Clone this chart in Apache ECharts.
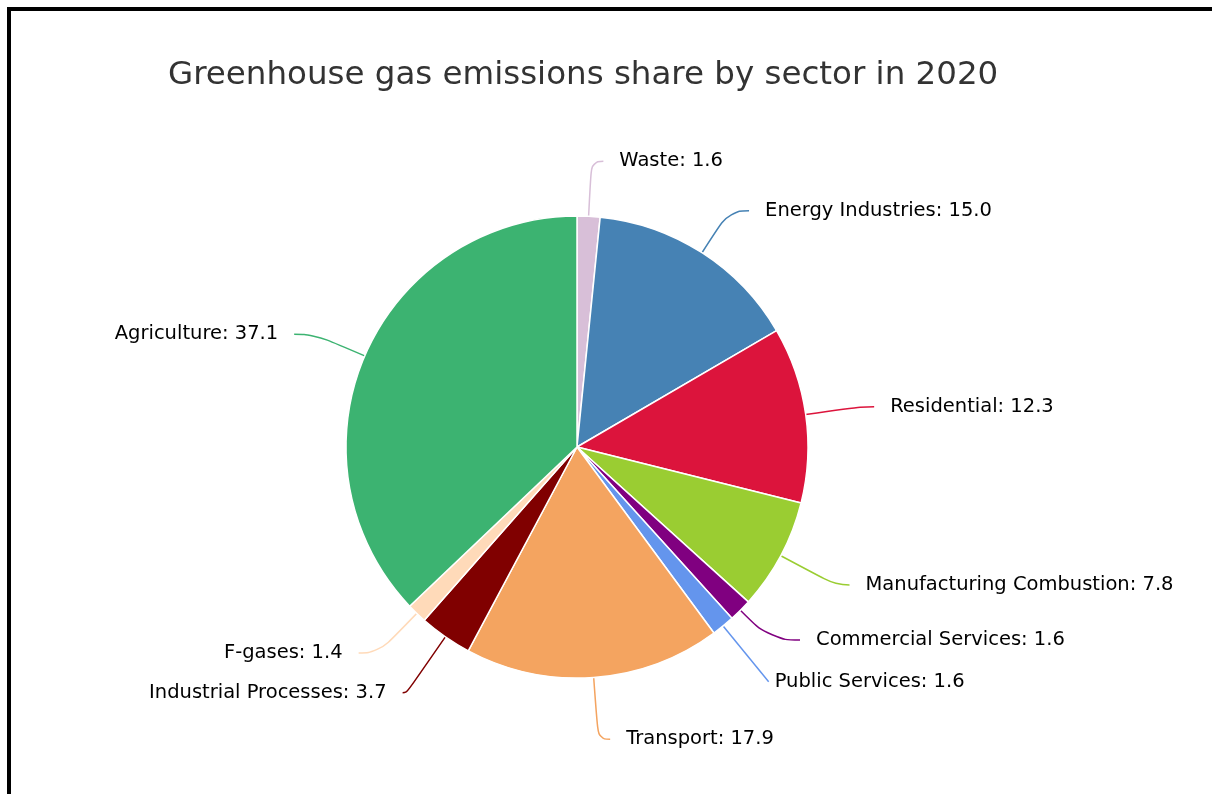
<!DOCTYPE html>
<html>
<head>
<meta charset="utf-8">
<script src="https://cdn.jsdelivr.net/npm/echarts@6/dist/echarts.min.js"></script>
<style>
html,body{margin:0;padding:0;background:#fff;overflow:hidden;}
#chart{position:absolute;left:0;top:0;width:1212px;height:794px;}
#frame{position:absolute;left:7px;top:7px;width:1300px;height:900px;border-top:4px solid #000;border-left:4px solid #000;pointer-events:none;}
</style>
</head>
<body>
<div id="chart"></div>
<div id="frame"></div>
<script>
const categories = ['Waste','Energy Industries','Residential','Manufacturing Combustion','Commercial Services','Public Services','Transport','Industrial Processes','F-gases','Agriculture'];
const values = [1.6, 15.0, 12.3, 7.8, 1.6, 1.6, 17.9, 3.7, 1.4, 37.1];
const colors = ['#D8BFD8','#4682B4','#DC143C','#9ACD32','#800080','#6495ED','#F4A460','#800000','#FFDAB9','#3CB371'];

// per-slice connector tweaks (style only)
const lineTweaks = {
  'Waste': {line: {length: 55, length2: 12}},
  'Residential': {line: {length2: 14}},
  'Manufacturing Combustion': {line: {length: 62, length2: 14}},
  'Public Services': {line: {length: 72, length2: 0}, dist: 6},
  'Commercial Services': {line: {length: 42, length2: 30}},
  'Industrial Processes': {line: {length: 68, length2: 4}},
  'Transport': {line: {length: 62, length2: 12}},
  'Energy Industries': {line: {length: 50}}
};

const chart = echarts.init(document.getElementById('chart'));
chart.setOption({
  animation: false,
  title: {
    text: 'Greenhouse gas emissions share by sector in 2020',
    left: 163, top: 54,
    textStyle: {fontFamily: 'DejaVu Sans', fontSize: 32.5, fontWeight: 'normal', color: '#333'}
  },
  series: [{
    type: 'pie',
    center: [577, 447],
    radius: [0, 231],
    startAngle: 90,
    clockwise: true,
    avoidLabelOverlap: true,
    data: categories.map((c, i) => {
      const d = {name: c, value: values[i], itemStyle: {color: colors[i]}};
      const t = lineTweaks[c];
      if (t) {
        d.labelLine = t.line;
        if (t.dist !== undefined) d.label = {distanceToLabelLine: t.dist};
      }
      return d;
    }),
    itemStyle: {borderColor: '#fff', borderWidth: 1.5},
    label: {
      show: true,
      formatter: p => p.name + ': ' + p.value.toFixed(1),
      fontFamily: 'DejaVu Sans', fontSize: 19.5, color: '#000',
      distanceToLabelLine: 16
    },
    labelLine: {show: true, length: 55, length2: 20, smooth: 0.5, lineStyle: {width: 1.5}},
    emphasis: {disabled: true}
  }]
});
</script>
</body>
</html>
